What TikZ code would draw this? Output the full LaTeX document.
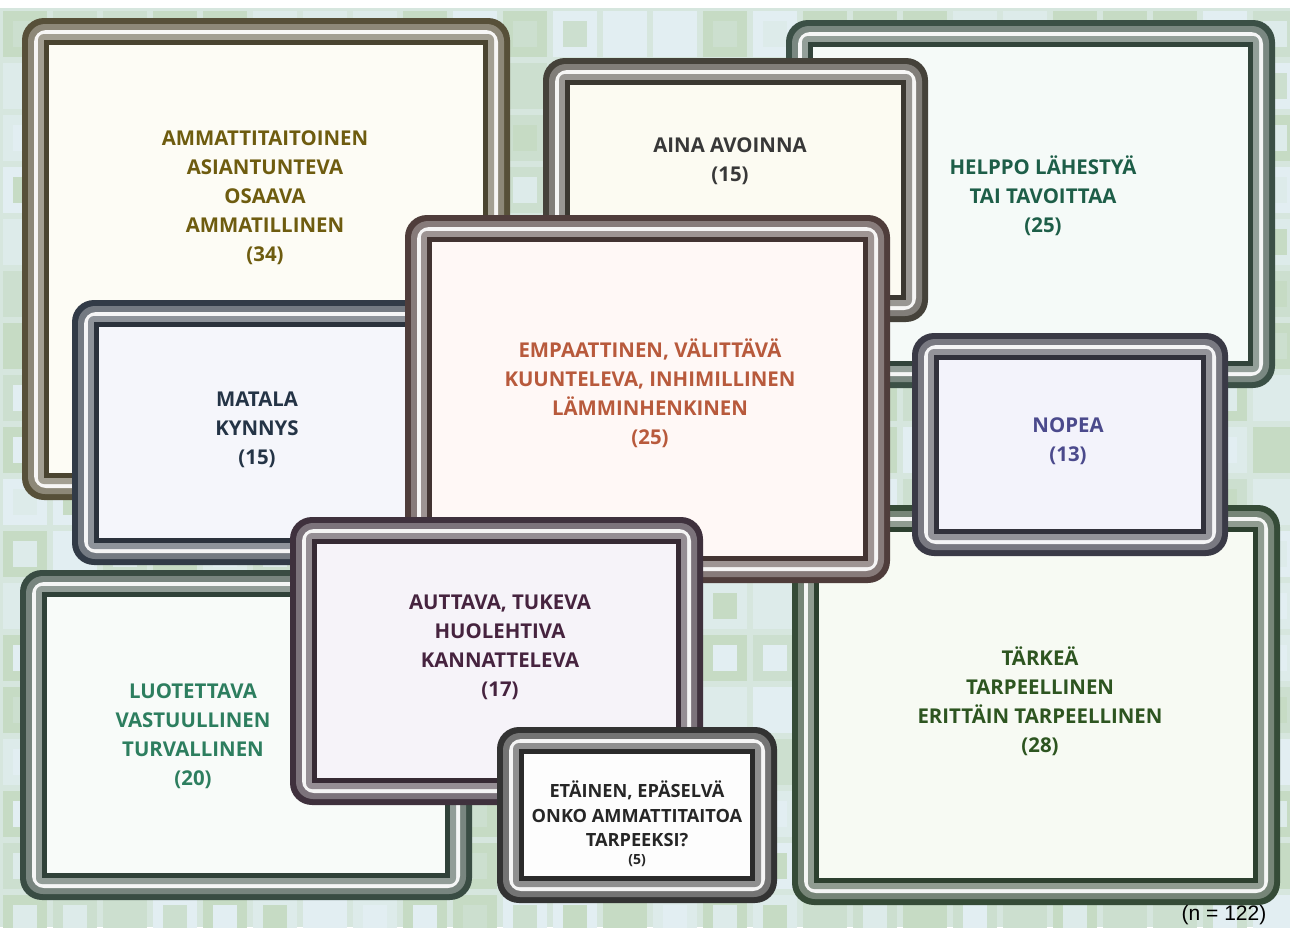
\documentclass[tikz,border=0pt]{standalone}
\usepackage{fontspec}
\setmainfont{Open Sans}
\newfontfamily\nfont{Liberation Sans}
\usetikzlibrary{calc}

\definecolor{bgbase}{HTML}{D6E6DE}
\definecolor{bg1}{HTML}{CCDFCF}
\definecolor{bg2}{HTML}{DDEBEA}
\definecolor{bg3}{HTML}{C6DBC4}
\definecolor{bg4}{HTML}{E2EEF2}
% frame colours
\definecolor{olivef}{HTML}{575039}
\definecolor{ainaf}{HTML}{45423A}
\definecolor{helppof}{HTML}{3B5046}
\definecolor{empf}{HTML}{4F3D3B}
\definecolor{matalaf}{HTML}{323B47}
\definecolor{nopeaf}{HTML}{3A3A46}
\definecolor{tarkeaf}{HTML}{354B37}
\definecolor{luotf}{HTML}{394C43}
\definecolor{auttf}{HTML}{3F313D}
\definecolor{etaf}{HTML}{333333}
% inner fills
\definecolor{olivei}{HTML}{FDFCF5}
\definecolor{ainai}{HTML}{FCFBF2}
\definecolor{helppoi}{HTML}{F5FAF8}
\definecolor{empi}{HTML}{FFF8F6}
\definecolor{matalai}{HTML}{F5F6FB}
\definecolor{nopeai}{HTML}{F3F3FB}
\definecolor{tarkeai}{HTML}{F7FAF3}
\definecolor{luoti}{HTML}{F8FBF9}
\definecolor{autti}{HTML}{F6F3F9}
\definecolor{etai}{HTML}{FDFDFD}
% text colours
\definecolor{olivet}{HTML}{6E5C0F}
\definecolor{ainat}{HTML}{383838}
\definecolor{helppot}{HTML}{1D5E48}
\definecolor{empt}{HTML}{B85A3C}
\definecolor{matalat}{HTML}{243446}
\definecolor{nopeat}{HTML}{4B4A8C}
\definecolor{tarkeat}{HTML}{2D5520}
\definecolor{luott}{HTML}{2D7E5F}
\definecolor{auttt}{HTML}{46233F}
\definecolor{etat}{HTML}{262626}

\tikzset{tlab/.style={font=\bfseries\fontsize{10.2}{14.5}\selectfont,align=center,inner sep=0pt},
         slab/.style={font=\bfseries\fontsize{9.1}{12.3}\selectfont,align=center,inner sep=0pt},
         nlab/.style={font=\nfont\fontsize{10.5}{12}\selectfont,inner sep=0pt}}

% one framed tile: name, top left, bottom right, frame colour, inner fill
\newcommand{\tilebox}[5]{%
  \coordinate (#1a) at (#2); \coordinate (#1b) at (#3);
  \fill[#4,rounded corners=11pt] (#1a) rectangle (#1b);
  \fill[#4!68!white,rounded corners=8.5pt] ($(#1a)+(6,6)$) rectangle ($(#1b)-(6,6)$);
  \fill[#4!5!white,rounded corners=6pt] ($(#1a)+(12,12)$) rectangle ($(#1b)-(12,12)$);
  \fill[#4!55!white,rounded corners=3pt] ($(#1a)+(16,16)$) rectangle ($(#1b)-(16,16)$);
  \fill[#4!85!black] ($(#1a)+(22,22)$) rectangle ($(#1b)-(22,22)$);
  \fill[#5] ($(#1a)+(27,27)$) rectangle ($(#1b)-(27,27)$);
}

\begin{document}
\begin{tikzpicture}[x=0.5pt,y=-0.5pt]
  \useasboundingbox (0,0) rectangle (1290,927);
  \fill[white] (0,0) rectangle (1290,927);
  % tiled background
  \pgfmathsetseed{42}
  \begin{scope}
    \clip (0,8) rectangle (1290,927);
    \fill[bgbase] (0,8) rectangle (1290,927);
    \foreach \i in {0,...,25} \foreach \j in {0,...,17} {
      \pgfmathtruncatemacro\k{random(1,4)}
      \pgfmathtruncatemacro\m{random(1,4)}
      \fill[fill=bg\k] (\i*50+3,\j*52+11) rectangle ++(44,46);
      \fill[fill=bg\m] (\i*50+13,\j*52+21) rectangle ++(24,26);
    }
  \end{scope}

  \tilebox{ammat}{22,18}{510,500}{olivef}{olivei}
  \node[tlab,text=olivet] (ammatt) at (265,198) {AMMATTITAITOINEN\\ASIANTUNTEVA\\OSAAVA\\AMMATILLINEN\\(34)};

  \tilebox{helppo}{786,20}{1275,388}{helppof}{helppoi}
  \node[tlab,text=helppot] (helppot) at (1043,196) {HELPPO LÄHESTYÄ\\TAI TAVOITTAA\\(25)};

  \tilebox{aina}{543,58}{928,322}{ainaf}{ainai}
  \node[tlab,text=ainat] (ainat) at (730,161) {AINA AVOINNA\\(15)};

  \tilebox{matala}{72,300}{560,565}{matalaf}{matalai}
  \node[tlab,text=matalat] (matalat) at (257,430) {MATALA\\KYNNYS\\(15)};

  \tilebox{tarkea}{792,505}{1280,905}{tarkeaf}{tarkeai}
  \node[tlab,text=tarkeat] (tarkeat) at (1040,701) {TÄRKEÄ\\TARPEELLINEN\\ERITTÄIN TARPEELLINEN\\(28)};

  \tilebox{emp}{405,215}{890,583}{empf}{empi}
  \node[tlab,text=empt] (empt) at (650,393) {EMPAATTINEN, VÄLITTÄVÄ\\KUUNTELEVA, INHIMILLINEN\\LÄMMINHENKINEN\\(25)};

  \tilebox{nopea}{912,333}{1228,556}{nopeaf}{nopeai}
  \node[tlab,text=nopeat] (nopeat) at (1068,441) {NOPEA\\(13)};

  \tilebox{luot}{20,570}{472,900}{luotf}{luoti}
  \node[tlab,text=luott] (luott) at (193,736) {LUOTETTAVA\\VASTUULLINEN\\TURVALLINEN\\(20)};

  \tilebox{autt}{290,517}{703,805}{auttf}{autti}
  \node[tlab,text=auttt] (auttt) at (500,647) {AUTTAVA, TUKEVA\\HUOLEHTIVA\\KANNATTELEVA\\(17)};

  \tilebox{eta}{497,727}{777,903}{etaf}{etai}
  \node[slab,text=etat] (etat) at (637,814) {ETÄINEN, EPÄSELVÄ\\ONKO AMMATTITAITOA\\TARPEEKSI?};
  \node[font=\bfseries\fontsize{7}{8}\selectfont,text=etat,inner sep=0pt] (etan) at (637,861) {(5)};

  \node[nlab] (nn) at (1224,915) {(n = 122)};
\end{tikzpicture}
\end{document}
